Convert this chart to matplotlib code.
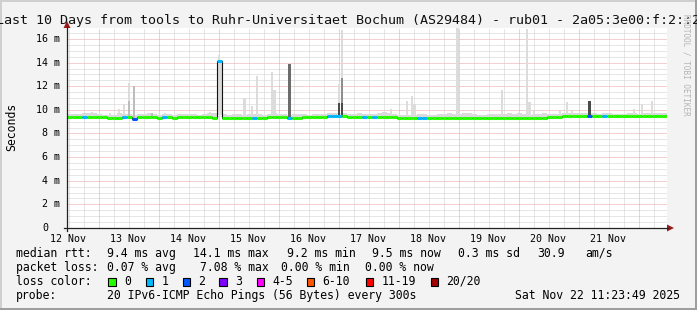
import numpy as np
import matplotlib.pyplot as plt
from matplotlib.patches import Rectangle, Polygon
import matplotlib.transforms as mtransforms

plt.rcParams['font.family'] = ['DejaVu Sans Mono', 'DejaVu Sans']

# ---- texts ----
title = "Last 10 Days from tools to Ruhr-Universitaet Bochum (AS29484) - rub01 - 2a05:3e00:f:2::2"
y_label = "Seconds"
watermark = "RRDTOOL / TOBI OETIKER"

# ---- axes (time in hours since graph start, Nov 12 11:23:49) ----
span_h = 240
first_midnight_h = 12.6
day_labels = ['12 Nov', '13 Nov', '14 Nov', '15 Nov', '16 Nov',
              '17 Nov', '18 Nov', '19 Nov', '20 Nov', '21 Nov']
y_ticks = [0, 2, 4, 6, 8, 10, 12, 14, 16]
y_tick_labels = ['0', '2 m', '4 m', '6 m', '8 m', '10 m', '12 m', '14 m', '16 m']
y_max = 16.93

# ---- median rtt (ms), one value per 2 hours ----
median = [
    9.42, 9.42, 9.42, 9.42, 9.42, 9.42, 9.42, 9.42, 9.33, 9.33,
    9.33, 9.40, 9.40, 9.20, 9.42, 9.42, 9.42, 9.42, 9.33, 9.42,
    9.42, 9.33, 9.42, 9.42, 9.42, 9.42, 9.42, 9.42, 9.42, 9.33,
    14.1, 9.34, 9.34, 9.34, 9.34, 9.34, 9.34, 9.34, 9.34, 9.30,
    9.40, 9.40, 9.40, 9.40, 9.34, 9.34, 9.34, 9.42, 9.42, 9.42,
    9.42, 9.42, 9.50, 9.50, 9.50, 9.50, 9.37, 9.37, 9.37, 9.37,
    9.37, 9.37, 9.37, 9.37, 9.37, 9.37, 9.31, 9.31, 9.31, 9.31,
    9.31, 9.31, 9.31, 9.31, 9.31, 9.34, 9.31, 9.31, 9.31, 9.31,
    9.31, 9.31, 9.29, 9.31, 9.31, 9.31, 9.31, 9.31, 9.31, 9.28,
    9.31, 9.28, 9.31, 9.28, 9.31, 9.31, 9.38, 9.38, 9.38, 9.51,
    9.51, 9.51, 9.51, 9.51, 9.51, 9.51, 9.51, 9.51, 9.51, 9.48,
    9.48, 9.48, 9.48, 9.48, 9.48, 9.48, 9.48, 9.48, 9.48, 9.48,
]
# lost pings (of 20) per 2 hours
loss = [0] * 120
for i in [3, 11, 19, 30, 37, 44, 52, 53, 54, 59, 61, 70, 71, 107]:
    loss[i] = 1
for i in [13, 104]:
    loss[i] = 2

# upper edge of the thin smoke band (ms)
smoke_hi = [
    9.62, 9.62, 9.65, 9.70, 9.72, 9.75, 9.62, 9.60, 9.55, 9.60,
    9.70, 9.68, 9.65, 9.60, 9.62, 9.65, 9.70, 9.62, 9.60, 9.62,
    9.65, 9.60, 9.62, 9.62, 9.65, 9.62, 9.60, 9.65, 9.70, 9.75,
    9.60, 9.62, 9.60, 9.65, 9.62, 9.60, 9.62, 9.65, 9.62, 9.58,
    9.65, 9.70, 9.68, 9.62, 9.60, 9.62, 9.65, 9.62, 9.60, 9.62,
    9.65, 9.68, 9.75, 9.70, 9.72, 9.70, 9.68, 9.65, 9.70, 9.62,
    9.65, 9.68, 9.70, 9.80, 9.72, 9.62, 9.58, 9.55, 9.55, 9.60,
    9.62, 9.65, 9.60, 9.58, 9.62, 9.65, 9.70, 9.62, 9.65, 9.70,
    9.72, 9.65, 9.60, 9.58, 9.62, 9.65, 9.62, 9.68, 9.70, 9.62,
    9.70, 9.65, 9.60, 9.62, 9.65, 9.70, 9.62, 9.65, 9.68, 9.75,
    9.72, 9.70, 9.70, 9.75, 9.72, 9.70, 9.68, 9.72, 9.70, 9.68,
    9.65, 9.68, 9.70, 9.72, 9.68, 9.70, 9.72, 9.70, 9.75, 9.70,
]

# smoke spikes: time (h), top (ms), shade index
spike_h = [10.0, 17.2, 20.8, 22.8, 24.8, 24.8, 26.8, 34.0, 39.2, 57.2,
           60.8, 71.0, 74.0, 76.0, 82.0, 83.0, 89.0, 108.8, 108.8, 110.0,
           110.0, 110.0, 129.6, 136.0, 138.0, 139.0, 156.2, 174.0, 184.0, 185.0,
           186.8, 197.2, 200.0, 202.0, 209.0, 226.8, 230.0, 234.0]
spike_top = [9.80, 9.70, 10.05, 10.5, 12.25, 10.75, 12.0, 9.75, 9.70, 9.85,
             14.65, 11.0, 10.3, 12.87, 13.23, 11.68, 13.88, 12.16, 10.6, 16.76,
             12.7, 10.6, 10.1, 10.75, 11.17, 10.47, 17.5, 11.68, 16.85, 10.64,
             9.9, 9.9, 10.64, 9.9, 10.75, 10.05, 10.5, 10.75]
spike_shade = [0, 0, 0, 0, 0, 1, 1, 1, 0, 0,
               0, 0, 0, 0, 0, 0, 3, 0, 4, 0,
               2, 4, 0, 0, 0, 0, 0, 0, 0, 0,
               0, 0, 0, 0, 4, 0, 0, 0]

# legend
loss_labels = ['0', '1', '2', '3', '4-5', '6-10', '11-19', '20/20']
loss_colors = ['#26ff00', '#00b8ff', '#0059ff', '#7e00ff', '#ff00ff', '#ff5500', '#ff0000', '#a10000']
stats_rtt = ['9.4 ms avg', '14.1 ms max', '9.2 ms min', '9.5 ms now', '0.3 ms sd', '30.9', 'am/s']
stats_loss = ['0.07 % avg', '7.08 % max', '0.00 % min', '0.00 % now']
probe_text = '20 IPv6-ICMP Echo Pings (56 Bytes) every 300s'
stamp = 'Sat Nov 22 11:23:49 2025'

shades = ['#dcdcdc', '#bdbdbd', '#8e8e8e', '#6c6c6c', '#4a4a4a']

# ---- figure ----
W, H = 697, 310
fig = plt.figure(figsize=(W / 100, H / 100), dpi=100, facecolor='#f3f3f3')
ax = fig.add_axes([67 / W, (H - 228) / H, 600 / W, 200 / H])
ax.set_xlim(0, span_h)
ax.set_ylim(0, y_max)
ax.set_facecolor('white')
for s in ax.spines.values():
    s.set_visible(False)

# grid (dotted)
dots = (0, (1, 1))
minor_c, major_c = '#cfcfcf', '#e9a0a0'
for v in np.arange(0.5, y_max, 0.5):
    c = major_c if v % 2 == 0 else minor_c
    ax.axhline(v, color=c, lw=0.72, ls=dots, zorder=1)
for h in np.arange(first_midnight_h - 12, span_h, 6):
    if abs((h - first_midnight_h) % 24) < 1e-6:
        ax.axvline(h, color=major_c, lw=0.72, ls=dots, zorder=1)
    elif h > 0:
        ax.axvline(h, color=minor_c, lw=0.72, ls=dots, zorder=1)

edges = np.arange(0, span_h + 1, 2)
med = np.array(median)

# smoke
ax.stairs(smoke_hi, edges, baseline=med - 0.1, fill=True, color='#dadada', lw=0, zorder=2)
order = np.argsort(spike_top)[::-1]
for i in order:
    base = med[int(spike_h[i] // 2)] - 0.1
    ax.bar(spike_h[i], spike_top[i] - base, bottom=base, width=1.0,
           color=shades[spike_shade[i]], lw=0, zorder=3)

# median line
ax.stairs(med, edges, baseline=None, color='#111111', lw=0.8, zorder=4)
ax.hlines(med, edges[:-1], edges[1:], colors=[loss_colors[l] for l in loss],
          lw=2.2, zorder=5, capstyle='butt')

# ticks
ax.set_xticks([first_midnight_h - 12 + 24 * i for i in range(len(day_labels))])
ax.set_xticklabels(day_labels, fontsize=7.2)
ax.tick_params(axis='x', length=0, pad=4)
ax.set_yticks([])
trans = mtransforms.blended_transform_factory(ax.transAxes, ax.transData)
for v, lab in zip(y_ticks, y_tick_labels):
    xoff = -7 / 600 if lab != '0' else -19 / 600
    ax.text(xoff, v, lab, transform=trans, ha='right', va='center', fontsize=7.2)

# ---- overlay in pixel coordinates ----
ov = fig.add_axes([0, 0, 1, 1])
ov.set_xlim(0, W)
ov.set_ylim(H, 0)
ov.axis('off')
ov.patch.set_alpha(0)

# frame
ov.add_patch(Rectangle((0, 0), W, 2, color='#cfcfcf', lw=0))
ov.add_patch(Rectangle((0, 0), 2, H, color='#cfcfcf', lw=0))
ov.add_patch(Rectangle((W - 2, 0), 2, H, color='#9e9e9e', lw=0))
ov.add_patch(Rectangle((0, H - 2), W, 2, color='#9e9e9e', lw=0))

# axes lines + arrows
ov.plot([67, 67], [27, 231], color='#222222', lw=0.9)
ov.plot([64, 668], [228, 228], color='#222222', lw=0.9)
ov.add_patch(Polygon([[63.5, 28], [70.5, 28], [67, 21]], color='#9b1b1b', lw=0))
ov.add_patch(Polygon([[667, 224.5], [667, 231.5], [674, 228]], color='#9b1b1b', lw=0))

ov.text(W / 2, 24, title, ha='center', va='baseline', fontsize=9.6, color='#111111')
ov.text(12, 127, y_label, ha='center', va='center', rotation=90, fontsize=8.3)
ov.text(686, 14, watermark, ha='center', va='top', rotation=-90, fontsize=5.5, color='#b4b4b4')

fs = 8.3
ov.text(16, 257, 'median rtt:', va='baseline', fontsize=fs)
for x, s in zip([107, 193, 287, 372, 458, 537, 585], stats_rtt):
    ov.text(x, 257, s, va='baseline', fontsize=fs)
ov.text(16, 271, 'packet loss:', va='baseline', fontsize=fs)
for x, s in zip([107, 200, 281, 365], stats_loss):
    ov.text(x, 271, s, va='baseline', fontsize=fs)
ov.text(16, 285, 'loss color:', va='baseline', fontsize=fs)
box_x = [108.3, 145.7, 182.7, 219.3, 256.7, 306.7, 365.7, 430.7]
for bx, lab, c in zip(box_x, loss_labels, loss_colors):
    ov.add_patch(Rectangle((bx, 278.3), 7.7, 7.7, facecolor=c, edgecolor='black', lw=0.8))
    ov.text(bx + 15.5, 285, lab, va='baseline', fontsize=fs)
ov.text(16, 299, 'probe:', va='baseline', fontsize=fs)
ov.text(107, 299, probe_text, va='baseline', fontsize=fs)
ov.text(680, 299, stamp, ha='right', va='baseline', fontsize=fs)

fig.savefig('out.png', dpi=100, facecolor=fig.get_facecolor())
